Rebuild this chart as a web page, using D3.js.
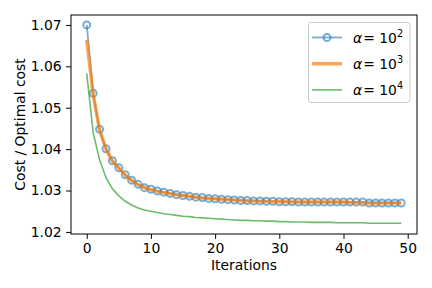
<!DOCTYPE html>
<html><head><meta charset="utf-8">
<script src="https://cdn.jsdelivr.net/npm/d3@7"></script>
<style>body{margin:0;background:#fff;} text{font-family:"DejaVu Sans",sans-serif;}</style>
</head><body>
<svg id="c" width="432" height="288"></svg>
<script>
const iterations = d3.range(50);
const alpha2 = [1.0700,1.0535,1.0448,1.0401,1.0372,1.0355,1.0338,1.0325,1.0315,1.0307,
  1.0303,1.0299,1.0296,1.0293,1.0290,1.0288,1.0286,1.0284,1.0283,1.0281,
  1.0280,1.0279,1.0278,1.0277,1.0276,1.0276,1.0275,1.0275,1.0274,1.0274,
  1.0273,1.0273,1.0273,1.0272,1.0272,1.0272,1.0272,1.0272,1.0272,1.0272,
  1.0272,1.0272,1.0272,1.0272,1.0270,1.0270,1.0270,1.0270,1.0270,1.0270];
const alpha3 = [1.0664,1.0532,1.0446,1.0400,1.0371,1.0354,1.0337,1.0324,1.0314,1.0307,
  1.0302,1.0298,1.0295,1.0292,1.0290,1.0288,1.0286,1.0284,1.0282,1.0281,
  1.0280,1.0279,1.0278,1.0277,1.0276,1.0275,1.0275,1.0274,1.0274,1.0273,
  1.0273,1.0273,1.0272,1.0272,1.0272,1.0272,1.0272,1.0272,1.0272,1.0272,
  1.0272,1.0271,1.0271,1.0271,1.0270,1.0270,1.0270,1.0270,1.0270,1.0270];
const alpha4 = [1.0583,1.0440,1.0374,1.0331,1.0304,1.0287,1.0274,1.0265,1.0258,1.0253,
  1.0250,1.0247,1.0244,1.0242,1.0240,1.0238,1.0237,1.0235,1.0234,1.0233,
  1.0232,1.0231,1.0230,1.0229,1.0228,1.0228,1.0227,1.0227,1.0226,1.0226,
  1.0225,1.0225,1.0224,1.0224,1.0224,1.0223,1.0223,1.0223,1.0223,1.0222,
  1.0222,1.0222,1.0222,1.0222,1.0221,1.0221,1.0221,1.0221,1.0221,1.0221];
const xTicks = [0,10,20,30,40,50];
const yTicks = [1.02,1.03,1.04,1.05,1.06,1.07];
const legendExp = ["2","3","4"];

const FS = 13.9;
const svg = d3.select("#c");
const L=71, R=417, T=15, B=234;
const x = d3.scaleLinear().domain([-2.45,51.45]).range([L,R]);
const y = d3.scaleLinear().domain([1.0195,1.0724]).range([B,T]);

const xa = svg.append("g").attr("transform",`translate(0,${B})`)
  .call(d3.axisBottom(x).tickValues(xTicks).tickFormat(d3.format("d")).tickSize(4.9).tickPadding(4.5));
const ya = svg.append("g").attr("transform",`translate(${L},0)`)
  .call(d3.axisLeft(y).tickValues(yTicks).tickFormat(d3.format(".2f")).tickSize(4.9).tickPadding(4.5));
[xa,ya].forEach(a=>{a.select(".domain").remove();
  a.selectAll("text").attr("font-size",FS).attr("fill","#000").attr("font-family","DejaVu Sans");
  a.selectAll("line").attr("stroke","#000").attr("stroke-width",1);});

const g = svg.append("g");
const line = arr => d3.line().x((d,i)=>x(iterations[i])).y(d=>y(d))(arr);

g.append("path").attr("d",line(alpha2)).attr("fill","none").attr("stroke","#1f77b4").attr("stroke-opacity",0.6).attr("stroke-width",1.8);
g.selectAll("circle.m").data(alpha2).join("circle").attr("class","m")
  .attr("cx",(d,i)=>x(iterations[i])).attr("cy",d=>y(d)).attr("r",3.5)
  .attr("fill","none").attr("stroke","#1f77b4").attr("stroke-opacity",0.6).attr("stroke-width",2);
g.append("path").attr("d",line(alpha3)).attr("fill","none").attr("stroke","#ff7f0e").attr("stroke-opacity",0.7).attr("stroke-width",3.5);
g.append("path").attr("d",line(alpha4)).attr("fill","none").attr("stroke","#2ca02c").attr("stroke-opacity",0.7).attr("stroke-width",1.6);

svg.append("rect").attr("x",L).attr("y",T).attr("width",R-L).attr("height",B-T)
  .attr("fill","none").attr("stroke","#000").attr("stroke-width",1);

svg.append("text").attr("x",(L+R)/2).attr("y",270).attr("text-anchor","middle").attr("font-size",FS).text("Iterations");
svg.append("text").attr("transform",`translate(25,${(T+B)/2}) rotate(-90)`).attr("text-anchor","middle").attr("font-size",FS).text("Cost / Optimal cost");

// legend
const lg = svg.append("g");
lg.append("rect").attr("x",308.5).attr("y",22.5).attr("width",101.5).attr("height",80).attr("rx",2.5)
  .attr("fill","#fff").attr("fill-opacity",0.8).attr("stroke","#ccc").attr("stroke-width",1);
const cols=["#1f77b4","#ff7f0e","#2ca02c"], ops=[0.6,0.7,0.7], wids=[1.8,3.5,1.6];
legendExp.forEach((e,i)=>{
  const yy = 37.5 + i*26.2;
  lg.append("line").attr("x1",312).attr("x2",342).attr("y1",yy).attr("y2",yy)
    .attr("stroke",cols[i]).attr("stroke-opacity",ops[i]).attr("stroke-width",wids[i]);
  if(i===0) lg.append("circle").attr("cx",327).attr("cy",yy).attr("r",3.5).attr("fill","none")
    .attr("stroke",cols[0]).attr("stroke-opacity",0.6).attr("stroke-width",2);
  const t = lg.append("text").attr("x",353).attr("y",yy+5).attr("font-size",FS);
  t.append("tspan").attr("font-style","italic").text("α");
  t.append("tspan").attr("dx",1).text("= 10");
  t.append("tspan").attr("dy",-6).attr("font-size",9.7).text(e);
});
</script>
</body></html>
